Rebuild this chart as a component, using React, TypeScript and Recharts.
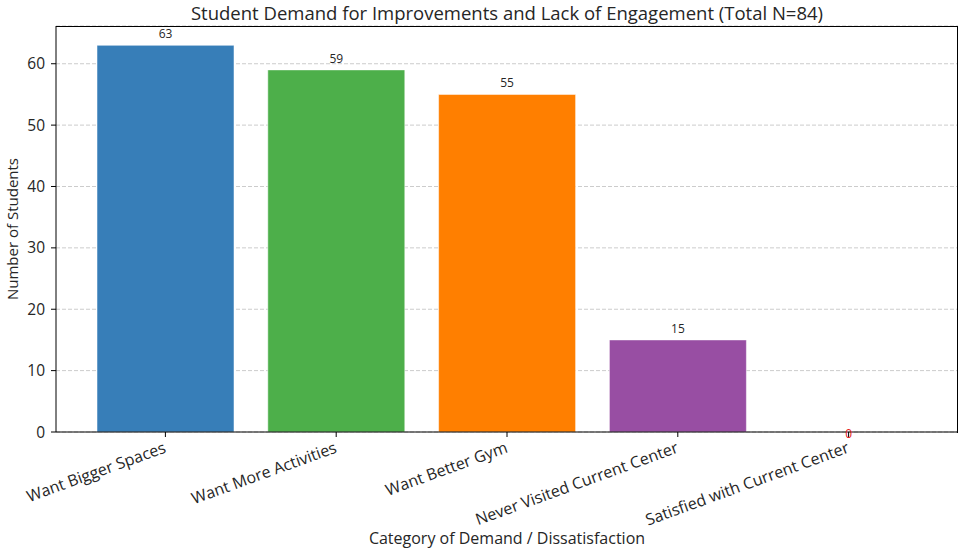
import React from 'react';
import {
  BarChart,
  Bar,
  XAxis,
  YAxis,
  CartesianGrid,
  Cell,
  LabelList,
  ReferenceDot,
} from 'recharts';

// Category names along the x axis
const categories = [
  'Want Bigger Spaces',
  'Want More Activities',
  'Want Better Gym',
  'Never Visited Current Center',
  'Satisfied with Current Center',
];

// Number of students per category
const counts = [63, 59, 55, 15, 0];

// Y axis ticks
const yTicks = [0, 10, 20, 30, 40, 50, 60];

const barColors = ['#377eb8', '#4daf4a', '#ff7f00', '#984ea3', '#e41a1c'];

const data = categories.map((category, i) => ({ category, count: counts[i] }));

const FONT = '"Open Sans", "DejaVu Sans", sans-serif';
const TEXT = '#262626';

const XTick = (props: any) => {
  const { x, y, payload } = props;
  return (
    <text
      x={x - 3}
      y={y}
      dy="0.8em"
      textAnchor="end"
      transform={`rotate(-20, ${x}, ${y})`}
      fontSize={16}
      fontFamily={FONT}
      fill={TEXT}
    >
      {payload.value}
    </text>
  );
};

const ValueLabel = (props: any) => {
  const { x, y, width, value } = props;
  if (Number(value) === 0) return null;
  return (
    <text
      x={x + width / 2}
      y={y - 7}
      textAnchor="middle"
      fontSize={12}
      fontFamily={FONT}
      fill={TEXT}
    >
      {value}
    </text>
  );
};

// label for a bar with no height (drawn in red on the axis)
const ZeroLabel = (props: any) => {
  const { cx, cy, value } = props;
  return (
    <text
      x={cx}
      y={cy + 3}
      textAnchor="middle"
      dominantBaseline="middle"
      fontSize={12}
      fontFamily={FONT}
      fill="#e41a1c"
    >
      {value}
    </text>
  );
};

export default function App() {
  return (
    <div style={{ position: 'absolute', left: 0, top: 0, width: 959, height: 550, background: '#fff' }}>
      <div
        style={{
          position: 'absolute',
          left: 56,
          width: 902,
          top: 0,
          textAlign: 'center',
          fontFamily: FONT,
          fontSize: 18.5,
          color: TEXT,
        }}
      >
        Student Demand for Improvements and Lack of Engagement (Total N=84)
      </div>
      <BarChart
        width={959}
        height={550}
        data={data}
        margin={{ top: 26, right: 1, bottom: 28, left: 6 }}
      >
        <CartesianGrid vertical={false} stroke="#cccccc" strokeDasharray="4 2" />
        <XAxis
          dataKey="category"
          height={90}
          interval={0}
          padding={{ left: 24, right: 24 }}
          tick={<XTick />}
          tickSize={5}
          tickLine={{ stroke: '#000' }}
          axisLine={{ stroke: '#000' }}
          label={{
            value: 'Category of Demand / Dissatisfaction',
            position: 'insideBottom',
            offset: -22,
            fontSize: 16,
            fontFamily: FONT,
            fill: TEXT,
          }}
        />
        <YAxis
          width={50}
          domain={[0, 66.15]}
          ticks={yTicks}
          tickSize={5}
          tickMargin={6}
          tickLine={{ stroke: '#000' }}
          axisLine={{ stroke: '#000' }}
          tick={{ fontSize: 15.5, fontFamily: FONT, fill: TEXT }}
          label={{
            value: 'Number of Students',
            angle: -90,
            position: 'insideLeft',
            offset: 7,
            style: { textAnchor: 'middle' },
            fontSize: 15,
            fontFamily: FONT,
            fill: TEXT,
          }}
        />
        <Bar
          dataKey="count"
          barSize={137}
          isAnimationActive={false}
          stroke="#ffffff"
          strokeOpacity={0.5}
        >
          {data.map((d, i) => (
            <Cell key={d.category} fill={barColors[i]} />
          ))}
          <LabelList dataKey="count" content={<ValueLabel />} />
        </Bar>
        {data
          .filter((d) => d.count === 0)
          .map((d) => (
            <ReferenceDot
              key={d.category}
              x={d.category}
              y={d.count}
              r={0}
              fill="none"
              stroke="none"
              ifOverflow="visible"
              label={(p: any) => (
                <ZeroLabel
                  cx={p.viewBox.x + (p.viewBox.width || 0) / 2}
                  cy={p.viewBox.y + (p.viewBox.height || 0) / 2}
                  value={d.count}
                />
              )}
            />
          ))}
      </BarChart>
      <div
        style={{
          position: 'absolute',
          left: 56,
          top: 26,
          width: 901,
          height: 406,
          borderTop: '1px solid #000',
          borderRight: '1px solid #000',
          pointerEvents: 'none',
        }}
      />
    </div>
  );
}
